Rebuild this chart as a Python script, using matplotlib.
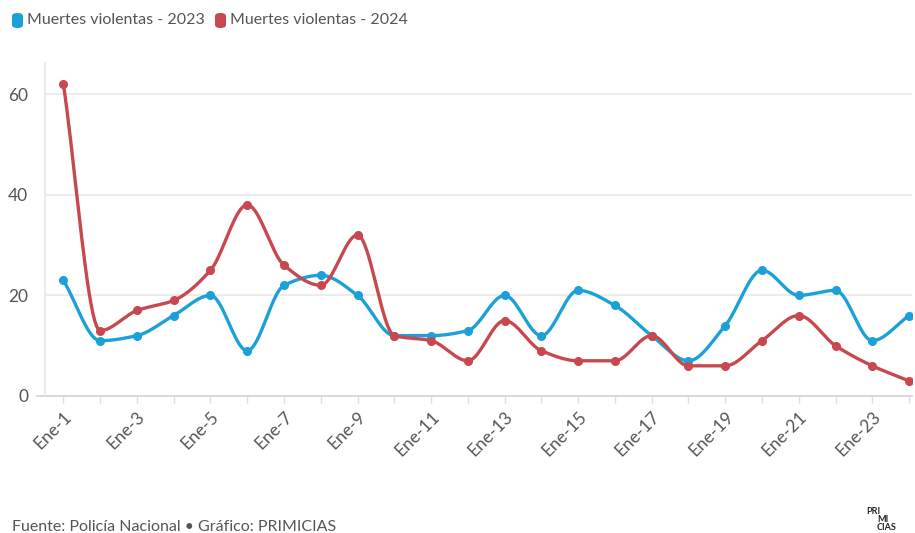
import numpy as np
import matplotlib
matplotlib.use("Agg")
import matplotlib.pyplot as plt
from matplotlib.patches import FancyBboxPatch

plt.rcParams['font.family'] = ['Lato', 'DejaVu Sans']

categories = [f"Ene-{i}" for i in range(1, 25)]
muertes_2023 = [23, 11, 12, 16, 20, 9, 22, 24, 20, 12, 12, 13, 20, 12, 21, 18, 12, 7, 14, 25, 20, 21, 11, 16]
muertes_2024 = [62, 13, 17, 19, 25, 38, 26, 22, 32, 12, 11, 7, 15, 9, 7, 7, 12, 6, 6, 11, 16, 10, 6, 3]
y_ticks = [0, 20, 40, 60]

BLUE = "#1ba1d8"
RED = "#c8484f"
TEXT = "#555555"


def monotone_curve(x, y, n=20):
    """Monotone cubic (Fritsch-Carlson) drawing path through the data points."""
    x = np.asarray(x, float)
    y = np.asarray(y, float)
    h = np.diff(x)
    d = np.diff(y) / h
    m = np.zeros_like(y)
    m[0] = d[0]
    m[-1] = d[-1]
    for i in range(1, len(y) - 1):
        if d[i - 1] * d[i] <= 0:
            m[i] = 0
        else:
            w1 = 2 * h[i] + h[i - 1]
            w2 = h[i] + 2 * h[i - 1]
            m[i] = (w1 + w2) / (w1 / d[i - 1] + w2 / d[i])
    xs, ys = [], []
    for i in range(len(y) - 1):
        t = np.linspace(0, 1, n, endpoint=(i == len(y) - 2))
        h00 = 2 * t**3 - 3 * t**2 + 1
        h10 = t**3 - 2 * t**2 + t
        h01 = -2 * t**3 + 3 * t**2
        h11 = t**3 - t**2
        xs.append(x[i] + t * h[i])
        ys.append(h00 * y[i] + h10 * h[i] * m[i] + h01 * y[i + 1] + h11 * h[i] * m[i + 1])
    return np.concatenate(xs), np.concatenate(ys)


fig = plt.figure(figsize=(9.15, 5.33), dpi=100)
ax = fig.add_axes([45 / 915, 1 - 396 / 533, (912 - 45) / 915, (396 - 63) / 533])

xpos = np.arange(len(categories))
for vals, col in [(muertes_2023, BLUE), (muertes_2024, RED)]:
    cx, cy = monotone_curve(xpos, vals)
    ax.plot(cx, cy, color=col, lw=2.4, solid_capstyle='round', zorder=3)
    ax.plot(xpos, vals, 'o', color=col, ms=5.5, zorder=4)

ax.set_xlim(-0.5, 23.08)
ax.set_ylim(0, 66.2)
ax.set_yticks(y_ticks)
ax.set_yticklabels([str(v) for v in y_ticks], fontsize=12.5, color=TEXT)
for v in y_ticks[1:]:
    ax.axhline(v, color="#ebebeb", lw=1.3, zorder=1)
ax.axhline(0, color="#d6d6d6", lw=1.3, zorder=2, xmin=-0.009, clip_on=False)

ax.set_xticks(xpos)
ax.set_xticklabels([c if i % 2 == 0 else "" for i, c in enumerate(categories)],
                   rotation=45, ha='right', rotation_mode='anchor', fontsize=12.5, color=TEXT)
ax.tick_params(axis='x', length=5, color="#dedede", width=1, pad=4)
ax.tick_params(axis='y', length=0, pad=12)

for s in ['top', 'right', 'bottom']:
    ax.spines[s].set_visible(False)
ax.spines['left'].set_color("#e6e6e6")
ax.spines['left'].set_linewidth(1.2)

# Legend
def legend_item(x_px, color, label):
    p = FancyBboxPatch((x_px / 915, 1 - 28 / 533), 11 / 915, 15 / 533,
                       boxstyle="round,pad=0,rounding_size=0.006",
                       transform=fig.transFigure, facecolor=color, edgecolor='none')
    fig.patches.append(p)
    fig.text((x_px + 15) / 915, 1 - 20.5 / 533, label, fontsize=11.5, color=TEXT, va='center', ha='left')

legend_item(12, BLUE, "Muertes violentas - 2023")
legend_item(215, RED, "Muertes violentas - 2024")

fig.text(12 / 915, 1 - 527 / 533, "Fuente: Policía Nacional • Gráfico: PRIMICIAS",
         fontsize=11.5, color=TEXT, va='center', ha='left')
logo_kw = dict(fontsize=6.5, color="#222222", fontweight='bold', va='center', ha='left')
fig.text(866 / 915, 1 - 512 / 533, "PRI", **logo_kw)
fig.text(877 / 915, 1 - 520 / 533, "MI", **logo_kw)
fig.text(877 / 915, 1 - 528 / 533, "CIAS", **logo_kw)

fig.savefig("out.png", dpi=100, facecolor='white')
